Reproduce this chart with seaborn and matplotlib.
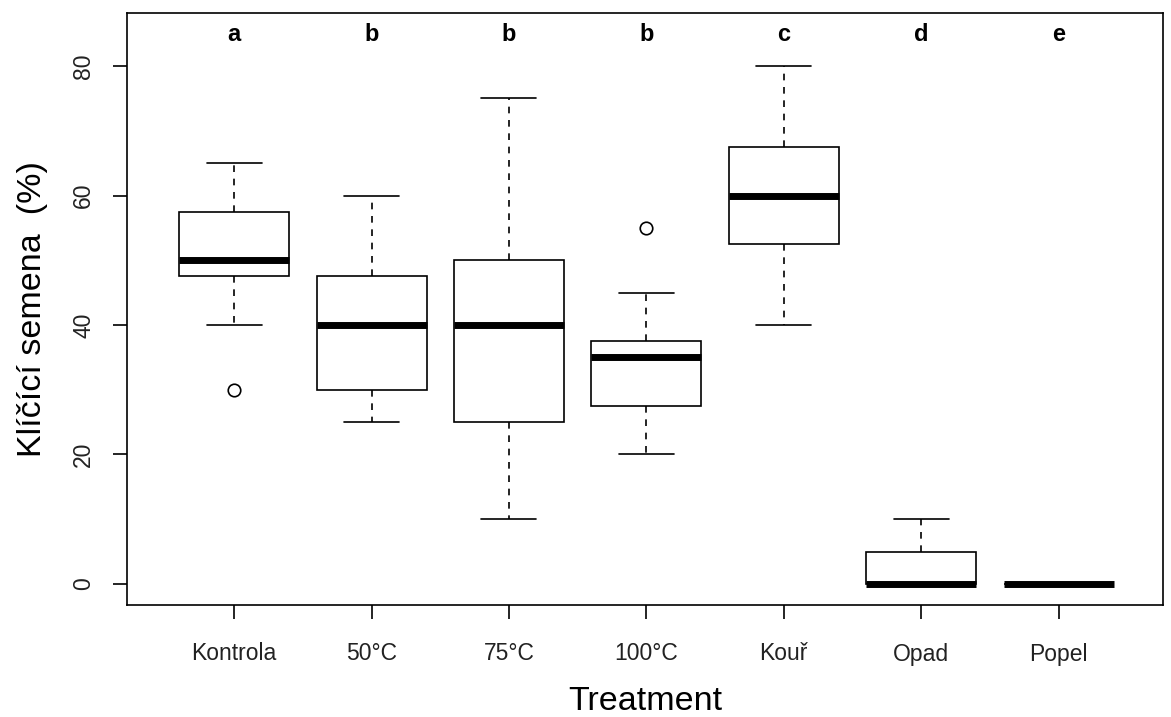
import numpy as np
import pandas as pd
import matplotlib
matplotlib.use("Agg")
import matplotlib.pyplot as plt
import seaborn as sns

categories = ["Kontrola", "50°C", "75°C", "100°C", "Kouř", "Opad", "Popel"]
kontrola = [30, 40, 47.5, 50, 50, 55, 57.5, 60, 65]
c50 = [25, 25, 30, 35, 40, 45, 47.5, 55, 60]
c75 = [10, 20, 25, 30, 40, 45, 50, 60, 75]
c100 = [20, 27.5, 27.5, 30, 35, 35, 37.5, 45, 55]
kour = [40, 50, 52.5, 55, 60, 65, 67.5, 75, 80]
opad = [0, 0, 0, 0, 0, 0, 5, 5, 10]
popel = [0, 0, 0, 0, 0, 0, 0, 0, 0]
letters = ["a", "b", "b", "b", "c", "d", "e"]
yticks = [0, 20, 40, 60, 80]

groups = [kontrola, c50, c75, c100, kour, opad, popel]
df = pd.DataFrame({
    "Treatment": np.repeat(categories, [len(g) for g in groups]),
    "value": np.concatenate(groups),
})

sns.set_theme(style="white")
plt.rcParams["font.family"] = ["Liberation Sans", "DejaVu Sans"]
plt.rcParams["text.color"] = "black"
plt.rcParams["axes.labelcolor"] = "black"
plt.rcParams["xtick.color"] = "black"
plt.rcParams["ytick.color"] = "black"

fig = plt.figure(figsize=(11.71, 7.17), dpi=100)
ax = fig.add_axes([127/1171, 1-605/717, (1163-127)/1171, (605-13)/717])

sns.boxplot(data=df, x="Treatment", y="value", order=categories, ax=ax,
            width=0.8, color="white", linecolor="black", linewidth=1.2,
            whis=1.5, fliersize=9,
            whiskerprops={"linestyle": (0, (4, 4))},
            medianprops={"linewidth": 5, "solid_capstyle": "butt"},
            flierprops={"marker": "o", "markerfacecolor": "none",
                        "markeredgecolor": "black", "markeredgewidth": 1.2})

ax.set_xlim(-0.78, 6.76)
ax.set_ylim(-3.25, 88.2)
ax.set_yticks(yticks)
ax.set_yticklabels([str(t) for t in yticks], rotation=90, va="center", fontsize=16.5)
ax.set_xticks(range(len(categories)))
ax.set_xticklabels(categories, fontsize=16.5)
ax.tick_params(axis="both", which="major", direction="out", length=10, width=1.2,
               color="black", labelcolor="#222222", left=True, bottom=True)
ax.tick_params(axis="x", pad=17)
ax.tick_params(axis="y", pad=13)
for s in ax.spines.values():
    s.set_visible(True)
    s.set_color("black")
    s.set_linewidth(1.2)

for i, l in enumerate(letters):
    ax.text(i, 84.9, l, ha="center", va="center", fontsize=17, fontweight="bold",
            color="black")

ax.set_xlabel("Treatment", fontsize=24.5, labelpad=14.5, color="black")
ax.set_ylabel("Klíčící semena  (%)", fontsize=24.5, labelpad=17, color="black")

fig.savefig("out.png", dpi=100, facecolor="white")
